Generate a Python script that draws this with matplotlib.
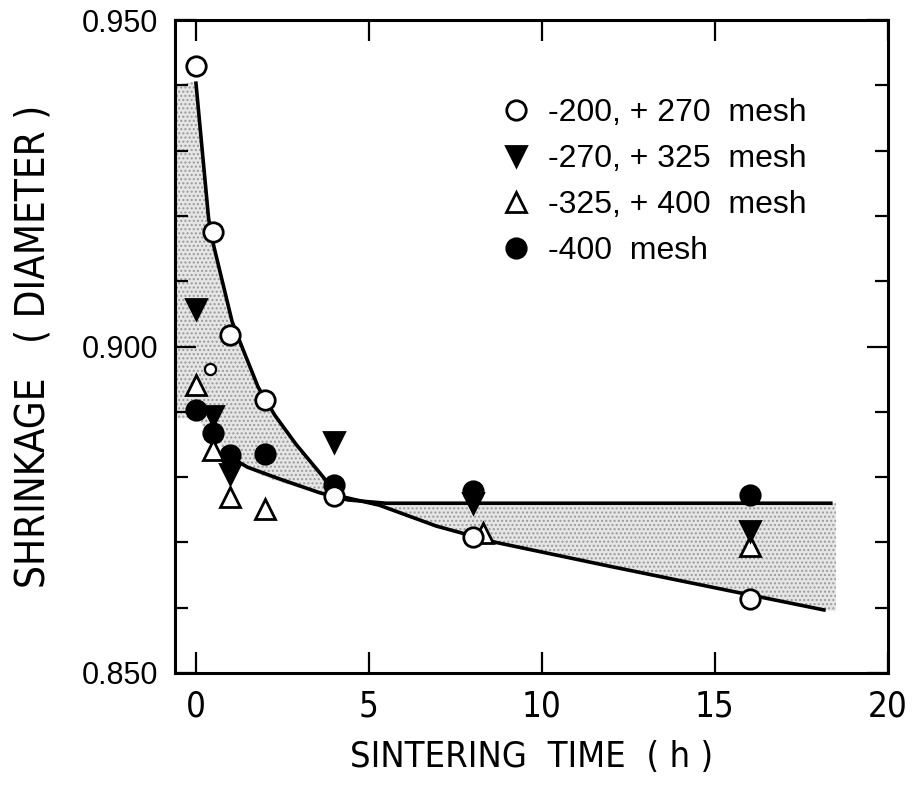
import numpy as np
import matplotlib.pyplot as plt
from matplotlib.lines import Line2D
from matplotlib.ticker import MultipleLocator

# -200, +270 mesh (open circles)
t_a = [0, 0.5, 1, 2, 4, 8, 16]
s_a = [0.9429, 0.9176, 0.9018, 0.8918, 0.8771, 0.8709, 0.8613]
# small open circle near t = 0.4
t_a2 = [0.4]
s_a2 = [0.8966]

# -270, +325 mesh (filled down triangles)
t_b = [0, 0.5, 1, 4, 8, 16]
s_b = [0.9057, 0.8893, 0.8804, 0.8853, 0.8761, 0.8718]

# -325, +400 mesh (open triangles)
t_c = [0, 0.5, 1, 2, 8.3, 16]
s_c = [0.8941, 0.8842, 0.8770, 0.8751, 0.8715, 0.8695]

# -400 mesh (filled circles)
t_d = [0, 0.5, 1, 2, 4, 8, 16]
s_d = [0.8902, 0.8867, 0.8834, 0.8835, 0.8788, 0.8778, 0.8772]

# fitted curves
curve1_t = [0, 0.37, 0.51, 1.05, 1.30, 1.80, 2.28, 2.9, 3.7, 3.98, 5.3, 6.95, 8.67, 12, 15.6, 18.2]
curve1_s = [0.9406, 0.9196, 0.9156, 0.9038, 0.9004, 0.8938, 0.8895, 0.885, 0.8799, 0.8773,
            0.8757, 0.8725, 0.8700, 0.8663, 0.8624, 0.8596]
curve2_t = [0.95, 1.5, 2.43, 3.58, 4.4, 5.5, 18.4]
curve2_s = [0.8832, 0.8815, 0.8797, 0.8776, 0.8765, 0.876, 0.876]

# shaded band
shade1_t = [-0.6, 0, 0.37, 0.51, 1.05, 1.3, 1.8, 2.28, 2.9, 3.7, 4.0, 4.4]
shade1_hi = [0.940, 0.9406, 0.9196, 0.9156, 0.9038, 0.9004, 0.8938, 0.8895, 0.885, 0.8799, 0.8773, 0.877]
shade1_lo = [0.889, 0.889, 0.887, 0.886, 0.8828, 0.882, 0.8805, 0.8795, 0.8785, 0.8776, 0.877, 0.8768]
shade2_t = [4.4, 5.3, 6.95, 8.67, 12, 15.6, 18.2, 18.5]
shade2_hi = [0.8765, 0.876, 0.876, 0.876, 0.876, 0.876, 0.876, 0.876]
shade2_lo = [0.8765, 0.8757, 0.8725, 0.8700, 0.8663, 0.8624, 0.8596, 0.8595]

labels = ['-200, + 270  mesh', '-270, + 325  mesh', '-325, + 400  mesh', '-400  mesh']

narrow = ['DejaVu Sans']
regular = ['Liberation Sans', 'DejaVu Sans']

fig = plt.figure(figsize=(9.14, 7.94), dpi=100)
ax = fig.add_axes([0.1915, 0.1524, 0.78, 0.8224])

# shading
for tt, hi, lo in [(shade1_t, shade1_hi, shade1_lo), (shade2_t, shade2_hi, shade2_lo)]:
    ax.fill_between(tt, lo, hi, facecolor='#e6e6e6', edgecolor='#9a9a9a',
                    hatch='....', linewidth=0, zorder=1)

ax.plot(curve1_t, curve1_s, color='black', lw=2.6, zorder=2, solid_capstyle='butt')
ax.plot(curve2_t, curve2_s, color='black', lw=2.6, zorder=2, solid_capstyle='butt')

ms = 14
mew = 2
ax.plot(t_d, s_d, 'o', ls='none', mfc='black', mec='black', ms=ms, mew=mew, zorder=3)
ax.plot(t_c, s_c, '^', ls='none', mfc='white', mec='black', ms=ms, mew=mew, zorder=4)
ax.plot(t_b, s_b, 'v', ls='none', mfc='black', mec='black', ms=ms, mew=mew, zorder=5)
ax.plot(t_a, s_a, 'o', ls='none', mfc='white', mec='black', ms=ms, mew=mew, zorder=6)
ax.plot(t_a2, s_a2, 'o', ls='none', mfc='white', mec='black', ms=8, mew=1.6, zorder=6)

ax.set_xlim(-0.6, 20)
ax.set_ylim(0.85, 0.95)
ax.set_xticks([0, 5, 10, 15, 20])
ax.set_yticks([0.85, 0.90, 0.95])
ax.set_yticklabels(['0.850', '0.900', '0.950'], family=regular, fontsize=22)
ax.set_xticklabels(['0', '5', '10', '15', '20'], family=narrow, fontstretch='condensed', fontsize=25)
ax.yaxis.set_minor_locator(MultipleLocator(0.01))
ax.tick_params(which='both', direction='in', top=True, right=True, width=1.6)
ax.tick_params(which='major', length=15, pad=12)
ax.tick_params(which='minor', length=9.5)
for sp in ax.spines.values():
    sp.set_linewidth(2.2)

ax.set_xlabel('SINTERING  TIME  ( h )', family=narrow, fontstretch='condensed',
              fontsize=26, labelpad=12)
ax.set_ylabel('SHRINKAGE   ( DIAMETER )', family=narrow, fontstretch='condensed',
              fontsize=29, labelpad=20)

handles = [
    Line2D([], [], marker='o', ls='none', mfc='white', mec='black', ms=ms, mew=mew),
    Line2D([], [], marker='v', ls='none', mfc='black', mec='black', ms=ms, mew=mew),
    Line2D([], [], marker='^', ls='none', mfc='white', mec='black', ms=ms, mew=mew),
    Line2D([], [], marker='o', ls='none', mfc='black', mec='black', ms=ms, mew=mew),
]
ax.legend(handles, labels, loc='upper left', bbox_to_anchor=(0.456, 0.88), frameon=False,
          prop={'family': regular, 'size': 23}, handlelength=1.0, handletextpad=0.5,
          labelspacing=0.5, borderpad=0, borderaxespad=0)

fig.savefig('out.png', dpi=100)
